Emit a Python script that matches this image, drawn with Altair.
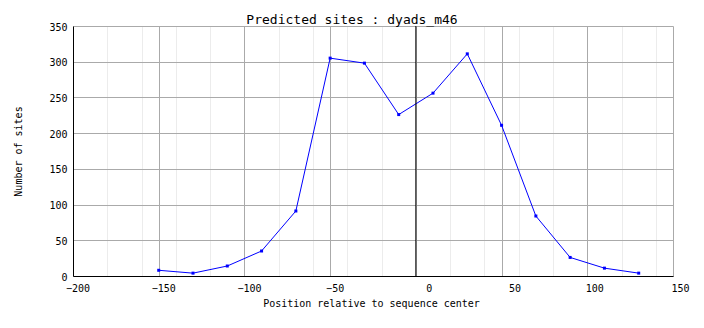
import altair as alt
import pandas as pd

positions = [-150, -130, -110, -90, -70, -50, -30, -10, 10, 30, 50, 70, 90, 110, 130]
sites = [8, 4, 14, 35, 91, 305, 298, 226, 256, 311, 211, 84, 26, 11, 4]
x_major = [-200, -150, -100, -50, 0, 50, 100, 150]
x_minor = [-180, -160, -140, -120, -80, -60, -40, -20, 20, 40, 60, 80, 120, 140]
y_ticks = [0, 50, 100, 150, 200, 250, 300, 350]
center_line = [0]

FONT = "DejaVu Sans Mono"

df = pd.DataFrame({"pos": positions, "sites": sites})
cdf = pd.DataFrame({"c": center_line})

xscale = alt.Scale(domain=[-200, 150], nice=False, zero=False)
yscale = alt.Scale(domain=[0, 350], nice=False)

minor_axis = alt.Axis(orient="top", values=x_minor, grid=True, gridColor="#ececec",
                      gridWidth=1, labels=False, ticks=False, domain=False, title=None)

major_x = alt.Axis(
    orient="bottom", values=x_major, grid=True, gridColor="#aaaaaa", gridWidth=1,
    domainColor="black", domainWidth=1, ticks=False, labelPadding=7,
    labelFont=FONT, labelFontSize=10, labelColor="black", labelFlush=False,
    labelOverlap=False, format="d",
    labelOffset={"condition": [{"test": "datum.value == 0 || datum.value == 50", "value": 13},
                               {"test": "datum.value >= 100", "value": 7}],
                 "value": 4.5},
    title="Position relative to sequence center", titleFont=FONT, titleFontSize=10,
    titleFontWeight="normal", titleColor="black", titleX=298, titleY=27,
    titleBaseline="middle", titleAlign="center",
)

y_axis = alt.Axis(
    values=y_ticks, grid=True, gridColor="#aaaaaa", gridWidth=1,
    domainColor="black", domainWidth=1, ticks=False, labelPadding=6,
    labelFont=FONT, labelFontSize=10, labelColor="black", labelFlush=False,
    labelOverlap=False, labelOffset=1, format="d",
    title="Number of sites", titleFont=FONT, titleFontSize=10, titleFontWeight="normal",
    titleColor="black", titleX=-55, titleY=125, titleAngle=-90,
    titleBaseline="middle", titleAlign="center",
)

line = alt.Chart(df).mark_line(color="#0000ff", strokeWidth=1).encode(
    x=alt.X("pos:Q", scale=xscale, axis=minor_axis),
    y=alt.Y("sites:Q", scale=yscale, axis=y_axis),
)

points = alt.Chart(df).mark_square(size=9, color="#0000ff", opacity=1).encode(
    x=alt.X("pos:Q", scale=xscale, axis=major_x),
    y=alt.Y("sites:Q", scale=yscale, axis=y_axis),
)

rule = alt.Chart(cdf).mark_rule(color="black", strokeWidth=1).encode(
    x=alt.X("c:Q", scale=xscale, axis=None),
)

chart = alt.layer(line, rule, points).resolve_axis(x="independent").properties(
    width=600, height=250,
    autosize=alt.AutoSizeParams(type="none"),
    padding={"left": 73, "top": 26, "right": 31, "bottom": 52},
    background="white",
    title=alt.TitleParams("Predicted sites : dyads_m46", font=FONT, fontSize=13,
                          fontWeight="normal", color="black", anchor="middle",
                          dx=-21, dy=18, offset=3, baseline="alphabetic"),
).configure_view(stroke=None)

chart.save("out.html", embed_options={"renderer": "svg", "actions": False})
